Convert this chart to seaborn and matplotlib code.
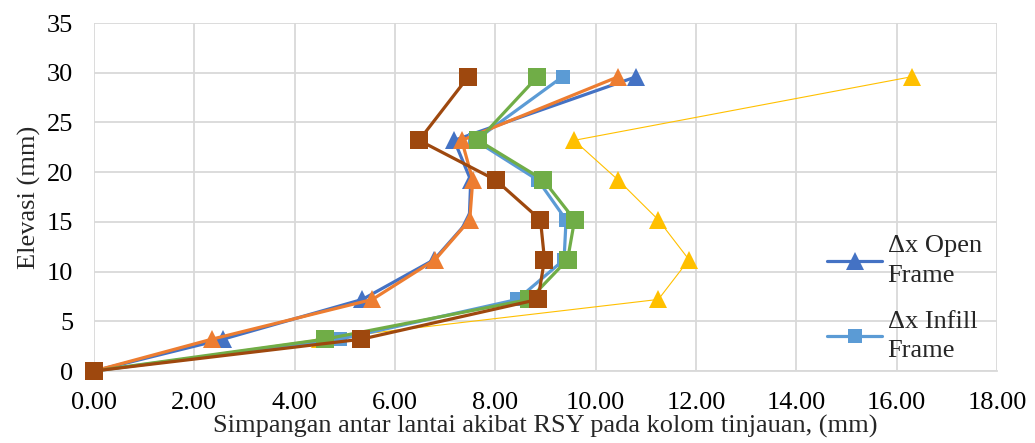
import matplotlib
matplotlib.use("Agg")
import matplotlib.pyplot as plt
import seaborn as sns
import pandas as pd

# Storey elevations shared by every series
elevasi = [0.0, 3.2, 7.2, 11.2, 15.2, 19.2, 23.2, 29.6]

# Inter-storey drift values (mm)
dx_open = [0.00, 2.57, 5.35, 6.78, 7.48, 7.51, 7.18, 10.81]
dx_infill = [0.00, 4.90, 8.44, 9.37, 9.41, 8.85, 7.60, 9.34]
dy_open = [0.00, 2.35, 5.55, 6.80, 7.49, 7.55, 7.33, 10.45]
dy_infill = [0.00, 4.60, 8.68, 9.44, 9.58, 8.96, 7.66, 8.84]
batas = [0.00, 4.50, 11.25, 11.86, 11.25, 10.45, 9.57, 16.30]
dy_infill_b = [0.00, 5.33, 8.85, 8.98, 8.90, 8.01, 6.48, 7.46]

x_ticks = [0, 2, 4, 6, 8, 10, 12, 14, 16, 18]
y_ticks = [0, 5, 10, 15, 20, 25, 30, 35]

sns.set_theme(style="white")
plt.rcParams["font.family"] = ["Liberation Serif", "DejaVu Serif"]

fig = plt.figure(figsize=(10.35, 4.43), dpi=100)
ax = fig.add_axes([0.0908, 0.1625, 0.8725, 0.7855])

series = [
    ("batas", batas, "#FFC000", "^", 13, 0.8, "_nolegend_"),
    ("dx_open", dx_open, "#4472C4", "^", 13, 2.3, "Δx Open\nFrame"),
    ("dx_infill", dx_infill, "#5B9BD5", "s", 9.5, 2.3, "Δx Infill\nFrame"),
    ("dy_open", dy_open, "#ED7D31", "^", 13, 2.3, "_nolegend_"),
    ("dy_infill", dy_infill, "#70AD47", "s", 13, 2.3, "_nolegend_"),
    ("dy_infill_b", dy_infill_b, "#9E480E", "s", 13, 2.3, "_nolegend_"),
]

for name, vals, color, mk, ms, lw, label in series:
    df = pd.DataFrame({"x": vals, "y": elevasi})
    sns.lineplot(data=df, x="x", y="y", sort=False, estimator=None, ax=ax,
                 color=color, marker=mk, markersize=ms, markeredgewidth=0,
                 linewidth=lw, label=label, zorder=3, clip_on=False)

ax.set_xlim(0, 18)
ax.set_ylim(0, 35)
ax.set_xticks(x_ticks)
ax.set_xticklabels([f"{v:.2f}" for v in x_ticks])
ax.set_yticks(y_ticks)
ax.grid(True, color="#D9D9D9", linewidth=1.3)
ax.set_axisbelow(True)
for s in ["top", "right", "left"]:
    ax.spines[s].set_visible(False)
ax.spines["bottom"].set_color("#D9D9D9")
ax.spines["bottom"].set_linewidth(1.3)
ax.tick_params(axis="both", length=0, labelsize=19, colors="black")
ax.tick_params(axis="x", pad=15)
ax.tick_params(axis="y", pad=15)

ax.set_xlabel("Simpangan antar lantai akibat RSY pada kolom tinjauan, (mm)",
              fontsize=19, labelpad=1)
ax.set_ylabel("Elevasi (mm)", fontsize=19, labelpad=4)

leg = ax.legend(loc="upper left", bbox_to_anchor=(0.80, 0.42), frameon=False,
                fontsize=19, handlelength=2.1, handletextpad=0.2,
                labelspacing=0.9, borderaxespad=0)
for t in leg.get_texts():
    t.set_linespacing(1.45)

fig.savefig("out.png", dpi=100)
